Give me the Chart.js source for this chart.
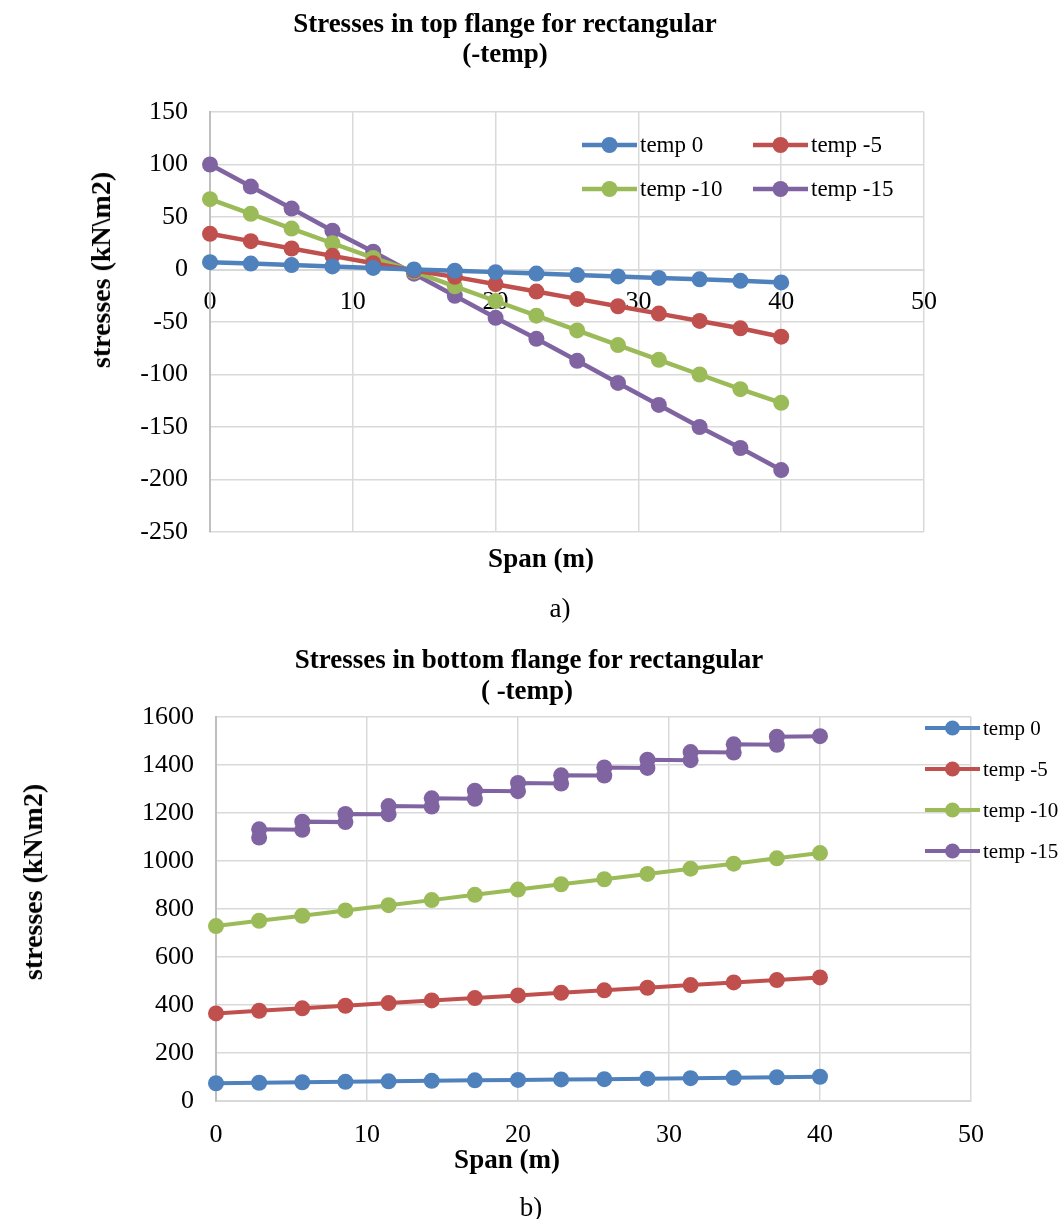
<!DOCTYPE html>
<html>
<head>
<meta charset="utf-8">
<script src="https://cdn.jsdelivr.net/npm/chart.js@4.4.1/dist/chart.umd.min.js"></script>
<style>
html,body{margin:0;padding:0;background:#fff;width:1064px;height:1219px;overflow:hidden;}
body{position:relative;font-family:"Liberation Serif","Times New Roman",serif;color:#000;}
canvas{position:absolute;left:0;}
.lbl{position:absolute;white-space:nowrap;line-height:1;transform:translate(-50%,-50%);}
.b{font-weight:bold;}
.rot{transform:translate(-50%,-50%) rotate(-90deg);}
</style>
</head>
<body>
<canvas id="topChart" width="1064" height="600" style="top:0;width:1064px;height:600px"></canvas>
<canvas id="botChart" width="1064" height="580" style="top:620px;width:1064px;height:580px"></canvas>

<div class="lbl b" style="left:505px;top:23px;font-size:27px">Stresses in top flange for rectangular</div>
<div class="lbl b" style="left:505px;top:53px;font-size:27px">(-temp)</div>
<div class="lbl b rot" style="left:101px;top:270px;font-size:28px">stresses (kN\m2)</div>
<div class="lbl b" style="left:541px;top:558px;font-size:27px">Span (m)</div>
<div class="lbl" style="left:560px;top:608px;font-size:27px">a)</div>

<div class="lbl b" style="left:529px;top:659px;font-size:27px">Stresses in bottom flange for rectangular</div>
<div class="lbl b" style="left:527px;top:690px;font-size:27px">( -temp)</div>
<div class="lbl b rot" style="left:33px;top:882px;font-size:28px">stresses (kN\m2)</div>
<div class="lbl b" style="left:507px;top:1159px;font-size:27px">Span (m)</div>
<div class="lbl" style="left:531px;top:1207px;font-size:27px">b)</div>

<script>
// ---------- DATA ----------
const seriesNames = ['temp 0', 'temp -5', 'temp -10', 'temp -15'];
const spanX = [0, 2.857, 5.714, 8.571, 11.429, 14.286, 17.143, 20, 22.857, 25.714, 28.571, 31.429, 34.286, 37.143, 40];

// (a) top flange
const topTemp0  = [7, 5.6, 4.2, 2.9, 1.5, 0.1, -1.2, -2.5, -3.9, -5.3, -6.6, -8.0, -9.4, -10.8, -12.3];
const topTemp5  = [34, 27, 20, 13, 6, -1, -7, -14, -21, -28, -35, -42, -49, -56, -64];
const topTemp10 = [67, 53, 39, 25, 11, -2, -16, -30, -44, -58, -72, -86, -100, -114, -127];
const topTemp15 = [100, 79, 58, 37, 17, -4, -25, -46, -66, -87, -108, -129, -150, -170, -191];

// (b) bottom flange
const botTemp0  = [74, 76, 78, 80, 82, 84, 86, 88, 90, 91, 93, 95, 97, 99, 101];
const botTemp5  = [365, 376, 386, 397, 408, 419, 429, 440, 451, 461, 472, 483, 494, 504, 515];
const botTemp10 = [729, 751, 772, 794, 816, 837, 859, 881, 903, 924, 946, 968, 989, 1011, 1033];
const botTemp15X = [2.857, 2.857, 5.714, 5.714, 8.571, 8.571, 11.429, 11.429, 14.286, 14.286, 17.143, 17.143, 20, 20,
                    22.857, 22.857, 25.714, 25.714, 28.571, 28.571, 31.429, 31.429, 34.286, 34.286, 37.143, 37.143, 40];
const botTemp15 = [1098, 1132, 1130, 1164, 1162, 1196, 1195, 1229, 1227, 1261, 1259, 1293, 1291, 1325,
                   1323, 1357, 1356, 1390, 1388, 1422, 1420, 1454, 1452, 1486, 1484, 1518, 1520];

// tick labels
const topXTicks = [0, 10, 20, 30, 40, 50];
const topYTicks = [-250, -200, -150, -100, -50, 0, 50, 100, 150];
const botXTicks = [0, 10, 20, 30, 40, 50];
const botYTicks = [0, 200, 400, 600, 800, 1000, 1200, 1400, 1600];

// ---------- STYLE ----------
const palette = ['#4F81BD', '#C0504D', '#9BBB59', '#8064A2'];
const FONT = '"Liberation Serif", "Times New Roman", serif';
const GRID = '#D9D9D9';

function pts(xs, ys) { return ys.map((y, i) => ({x: xs[i], y: y})); }

function ds(i, data, r, w) {
  return {
    label: seriesNames[i], data: data, showLine: true,
    borderColor: palette[i], backgroundColor: palette[i],
    pointBackgroundColor: palette[i], pointBorderColor: palette[i],
    pointBorderWidth: 0, pointRadius: r, pointHoverRadius: r,
    borderWidth: w, tension: 0, clip: false
  };
}

const lineLegend = {
  id: 'lineLegend',
  afterDraw(chart, args, o) {
    const ctx = chart.ctx;
    ctx.save();
    ctx.font = o.fontSize + 'px ' + FONT;
    ctx.textBaseline = 'middle';
    ctx.textAlign = 'left';
    chart.data.datasets.forEach((d, i) => {
      const col = i % o.cols, row = Math.floor(i / o.cols);
      const x = o.x + col * o.colWidth, y = o.y + row * o.rowHeight;
      ctx.strokeStyle = d.borderColor; ctx.lineWidth = d.borderWidth; ctx.lineCap = 'butt';
      ctx.beginPath(); ctx.moveTo(x, y); ctx.lineTo(x + o.lineLen, y); ctx.stroke();
      ctx.fillStyle = d.pointBackgroundColor;
      ctx.beginPath(); ctx.arc(x + o.lineLen / 2, y, o.r, 0, Math.PI * 2); ctx.fill();
      ctx.fillStyle = '#000';
      ctx.fillText(d.label, x + o.lineLen + o.gap, y + 1);
    });
    ctx.restore();
  }
};

const tickFont = {family: FONT, size: 26};
const fmt = v => String(v);

// ---------- CHART (a) ----------
new Chart(document.getElementById('topChart'), {
  type: 'scatter',
  data: {
    datasets: [
      ds(0, pts(spanX, topTemp0), 8, 4.5),
      ds(1, pts(spanX, topTemp5), 8, 4.5),
      ds(2, pts(spanX, topTemp10), 8, 4.5),
      ds(3, pts(spanX, topTemp15), 8, 4.5)
    ]
  },
  options: {
    responsive: false, animation: false, events: [],
    layout: {padding: {left: 140, right: 140, top: 112, bottom: 68}},
    scales: {
      x: {
        type: 'linear', min: 0, max: 50, position: {y: 0},
        afterBuildTicks: s => { s.ticks = topXTicks.map(v => ({value: v})); },
        ticks: {font: tickFont, color: '#000', padding: 17, maxRotation: 0, callback: fmt},
        grid: {color: GRID, lineWidth: 1.5, drawTicks: false},
        border: {color: GRID, width: 2}
      },
      y: {
        type: 'linear', min: -250, max: 150,
        afterBuildTicks: s => { s.ticks = topYTicks.map(v => ({value: v})); },
        afterFit: s => { s.width = 70; },
        ticks: {font: tickFont, color: '#000', padding: 22, callback: fmt},
        grid: {color: GRID, lineWidth: 1.5, drawTicks: false},
        border: {color: '#BFBFBF', width: 2}
      }
    },
    plugins: {
      legend: {display: false}, tooltip: {enabled: false}, title: {display: false},
      lineLegend: {x: 582, y: 145, cols: 2, colWidth: 171, rowHeight: 44, lineLen: 55, gap: 3, r: 8, fontSize: 23}
    }
  },
  plugins: [lineLegend]
});

// ---------- CHART (b) ----------
new Chart(document.getElementById('botChart'), {
  type: 'scatter',
  data: {
    datasets: [
      ds(0, pts(spanX, botTemp0), 8, 4),
      ds(1, pts(spanX, botTemp5), 8, 4),
      ds(2, pts(spanX, botTemp10), 8, 4),
      ds(3, pts(botTemp15X, botTemp15), 8, 4)
    ]
  },
  options: {
    responsive: false, animation: false, events: [],
    layout: {padding: {left: 136, right: 93, top: 97, bottom: 29}},
    scales: {
      x: {
        type: 'linear', min: 0, max: 50, position: 'bottom',
        afterBuildTicks: s => { s.ticks = botXTicks.map(v => ({value: v})); },
        afterFit: s => { s.height = 70; },
        ticks: {font: tickFont, color: '#000', padding: 19, maxRotation: 0, callback: fmt},
        grid: {color: GRID, lineWidth: 1.5, drawTicks: false},
        border: {color: GRID, width: 2}
      },
      y: {
        type: 'linear', min: 0, max: 1600,
        afterBuildTicks: s => { s.ticks = botYTicks.map(v => ({value: v})); },
        afterFit: s => { s.width = 80; },
        ticks: {font: tickFont, color: '#000', padding: 22, callback: fmt},
        grid: {color: GRID, lineWidth: 1.5, drawTicks: false},
        border: {color: '#BFBFBF', width: 2}
      }
    },
    plugins: {
      legend: {display: false}, tooltip: {enabled: false}, title: {display: false},
      lineLegend: {x: 925, y: 108, cols: 1, colWidth: 0, rowHeight: 41, lineLen: 55, gap: 3, r: 7.5, fontSize: 21}
    }
  },
  plugins: [lineLegend]
});
</script>
</body>
</html>
